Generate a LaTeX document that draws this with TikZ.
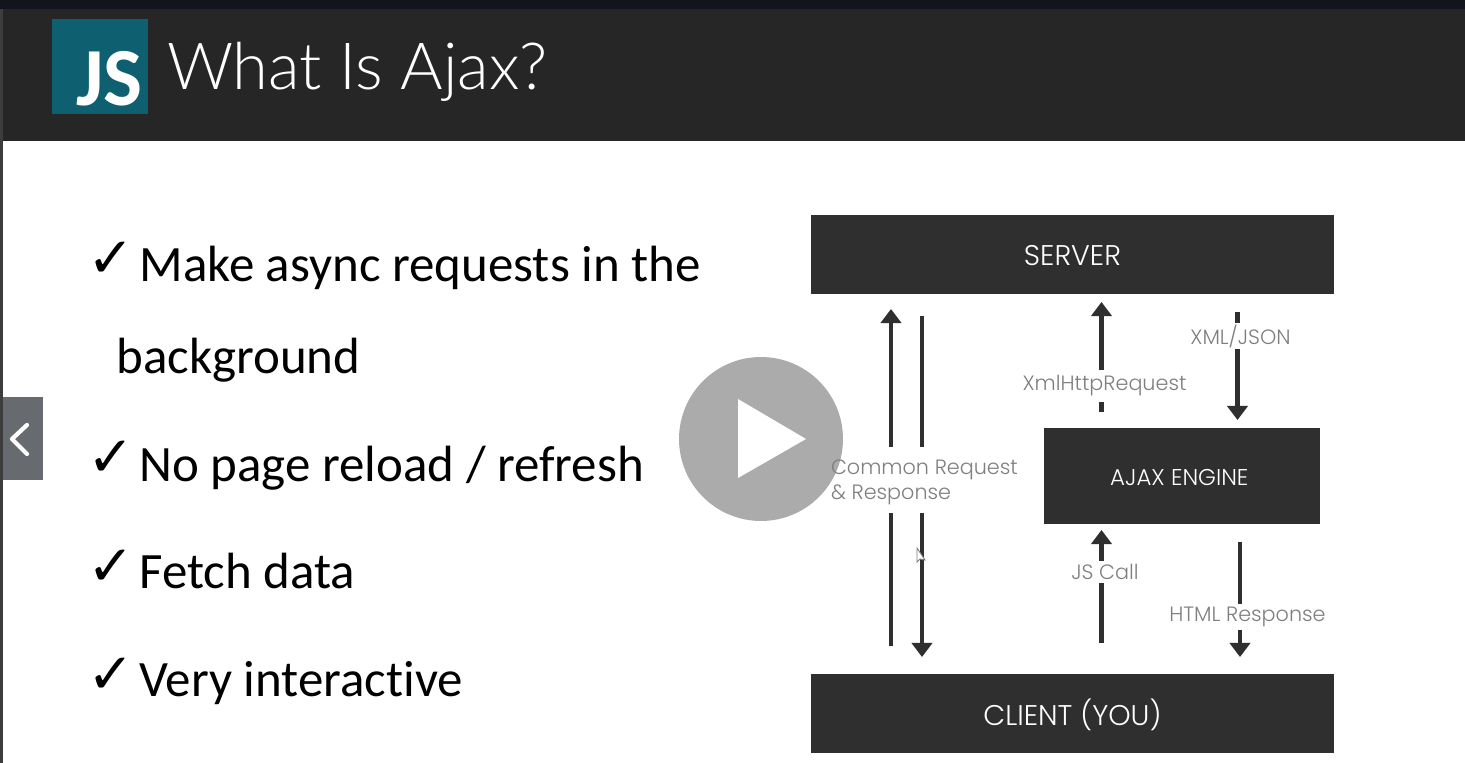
\documentclass[tikz,border=0pt]{standalone}
\usepackage{fontspec}
\setmainfont{Carlito}[Ligatures=NoCommon]
\newfontfamily\titlefont{Lato Light}
\newfontfamily\gothicfont{Poppins Light}
\newfontfamily\checkfont{DejaVu Sans}
\usetikzlibrary{arrows.meta}
\definecolor{boxdark}{HTML}{2F2F2F}
\definecolor{headdark}{HTML}{262626}
\definecolor{topdark}{HTML}{12161C}
\definecolor{edgedark}{HTML}{3D3D3D}
\definecolor{jsteal}{HTML}{0E5F70}
\definecolor{labelgrey}{HTML}{7F7F7F}
\definecolor{backgrey}{HTML}{676B70}
\definecolor{playgrey}{HTML}{ABABAB}
\begin{document}
\begin{tikzpicture}[x=0.02cm,y=-0.02cm,>={Triangle[width=11.5pt,length=8pt]},line width=2.4pt,outer sep=0pt,
  blackbox/.style={fill=boxdark,text=white,font=\gothicfont\fontsize{16.2}{18}\selectfont,inner sep=0pt,anchor=north west},
  flowlabel/.style={text=labelgrey,font=\gothicfont\fontsize{11.8}{14.2}\selectfont,inner sep=1pt},
  gaplabel/.style={flowlabel,fill=white},
  tick/.style={font=\checkfont\fontsize{32}{36}\selectfont,anchor=base west,inner sep=0pt},
  bullet/.style={font=\fontsize{29}{32}\selectfont,anchor=base west,inner sep=0pt},
  flow/.style={draw=boxdark}]
  \useasboundingbox (0,0) rectangle (1465,763);
  \fill[white] (0,0) rectangle (1465,763);

  % header and window edges
  \fill[topdark] (0,0) rectangle (1465,9);
  \fill[headdark] (3,9) rectangle (1465,141);
  \fill[edgedark] (0,9) rectangle (3,763);
  \fill[jsteal] (52,19) rectangle (148,114);
  \node[text=white,font=\bfseries\fontsize{47}{48}\selectfont,anchor=base east,inner sep=0pt] (js) at (143,106) {JS};
  \node[text=white,font=\titlefont\fontsize{37}{40}\selectfont,anchor=base west,inner sep=0pt] (title) at (167,90) {What Is Ajax?};

  % back button
  \fill[backgrey] (3,397) rectangle (43,480);
  \coordinate (backa) at (27,425);
  \coordinate (backb) at (12,439);
  \coordinate (backc) at (27,454);
  \draw[white,line cap=round,line join=round] (backa) -- (backb) -- (backc);

  % bullet list
  \node[tick] (tick1) at (87,278) {✓};
  \node[tick] (tick2) at (87,477) {✓};
  \node[tick] (tick3) at (87,585) {✓};
  \node[tick] (tick4) at (87,693) {✓};
  \node[bullet] (make) at (139.5,282) {Make async requests in the};
  \node[bullet] (background) at (116.5,374) {background};
  \node[bullet] (reload) at (139.5,482) {No page reload / refresh};
  \node[bullet] (fetch) at (139.5,589) {Fetch data};
  \node[bullet] (interactive) at (139.5,696) {Very interactive};

  % boxes
  \node[blackbox,minimum width=10.46cm,minimum height=1.58cm,text height=12.6pt,text depth=0pt] (server) at (811,215) {SERVER};
  \node[blackbox,minimum width=5.52cm,minimum height=1.92cm,font=\gothicfont\fontsize{13}{15}\selectfont,text height=10.3pt,text depth=0pt] (engine) at (1044,428) {AJAX ENGINE\kern3pt};
  \node[blackbox,minimum width=10.46cm,minimum height=1.58cm,text height=14.6pt,text depth=1pt] (client) at (811,674) {CLIENT (YOU)};

  \coordinate (upa) at (891,447);
  \coordinate (upb) at (891,309);
  \coordinate (upc) at (891,646);
  \coordinate (upd) at (891,513);
  \coordinate (downa) at (922,316);
  \coordinate (downb) at (922,447);
  \coordinate (downc) at (922,513);
  \coordinate (downd) at (922,657);
  \coordinate (xhra) at (1101.5,412);
  \coordinate (xhrb) at (1101.5,302);
  \coordinate (xmla) at (1237.5,312);
  \coordinate (xmlb) at (1237.5,420);
  \coordinate (calla) at (1101.5,643);
  \coordinate (callb) at (1101.5,530);
  \coordinate (htmla) at (1240,542);
  \coordinate (htmlb) at (1240,657);

  % arrows
  \draw[flow,->] (upa) -- (upb);
  \draw[flow] (upc) -- (upd);
  \draw[flow] (downa) -- (downb);
  \draw[flow,->] (downc) -- (downd);
  \draw[flow,->] (xhra) -- (xhrb);
  \draw[flow,->] (xmla) -- (xmlb);
  \draw[flow,->] (calla) -- (callb);
  \draw[flow,->] (htmla) -- (htmlb);

  % labels
  \node[gaplabel,inner ysep=3pt] (xhrlabel) at (1104.5,386) {XmlHttpRequest};
  \node[gaplabel,inner ysep=1pt] (xmllabel) at (1240.5,336) {XML/JSON};
  \node[gaplabel,inner ysep=2pt] (calllabel) at (1105,572) {JS Call};
  \node[gaplabel,inner ysep=2pt] (htmllabel) at (1247.5,617) {HTML Response};

  % play button
  \node[circle,fill=playgrey,minimum size=3.28cm,inner sep=0pt] (play) at (761,439) {};
  \fill[white] (738,399) -- (806,439) -- (738,478) -- cycle;

  \node[flowlabel,anchor=west,align=left,inner sep=0pt] (common) at (831,482) {Common Request\\\& Response};

  % mouse pointer
  \draw[fill=white,draw=labelgrey,line width=0.5pt] (917,548) -- (917,562) -- (920,559) -- (925,560) -- cycle;
\end{tikzpicture}
\end{document}
